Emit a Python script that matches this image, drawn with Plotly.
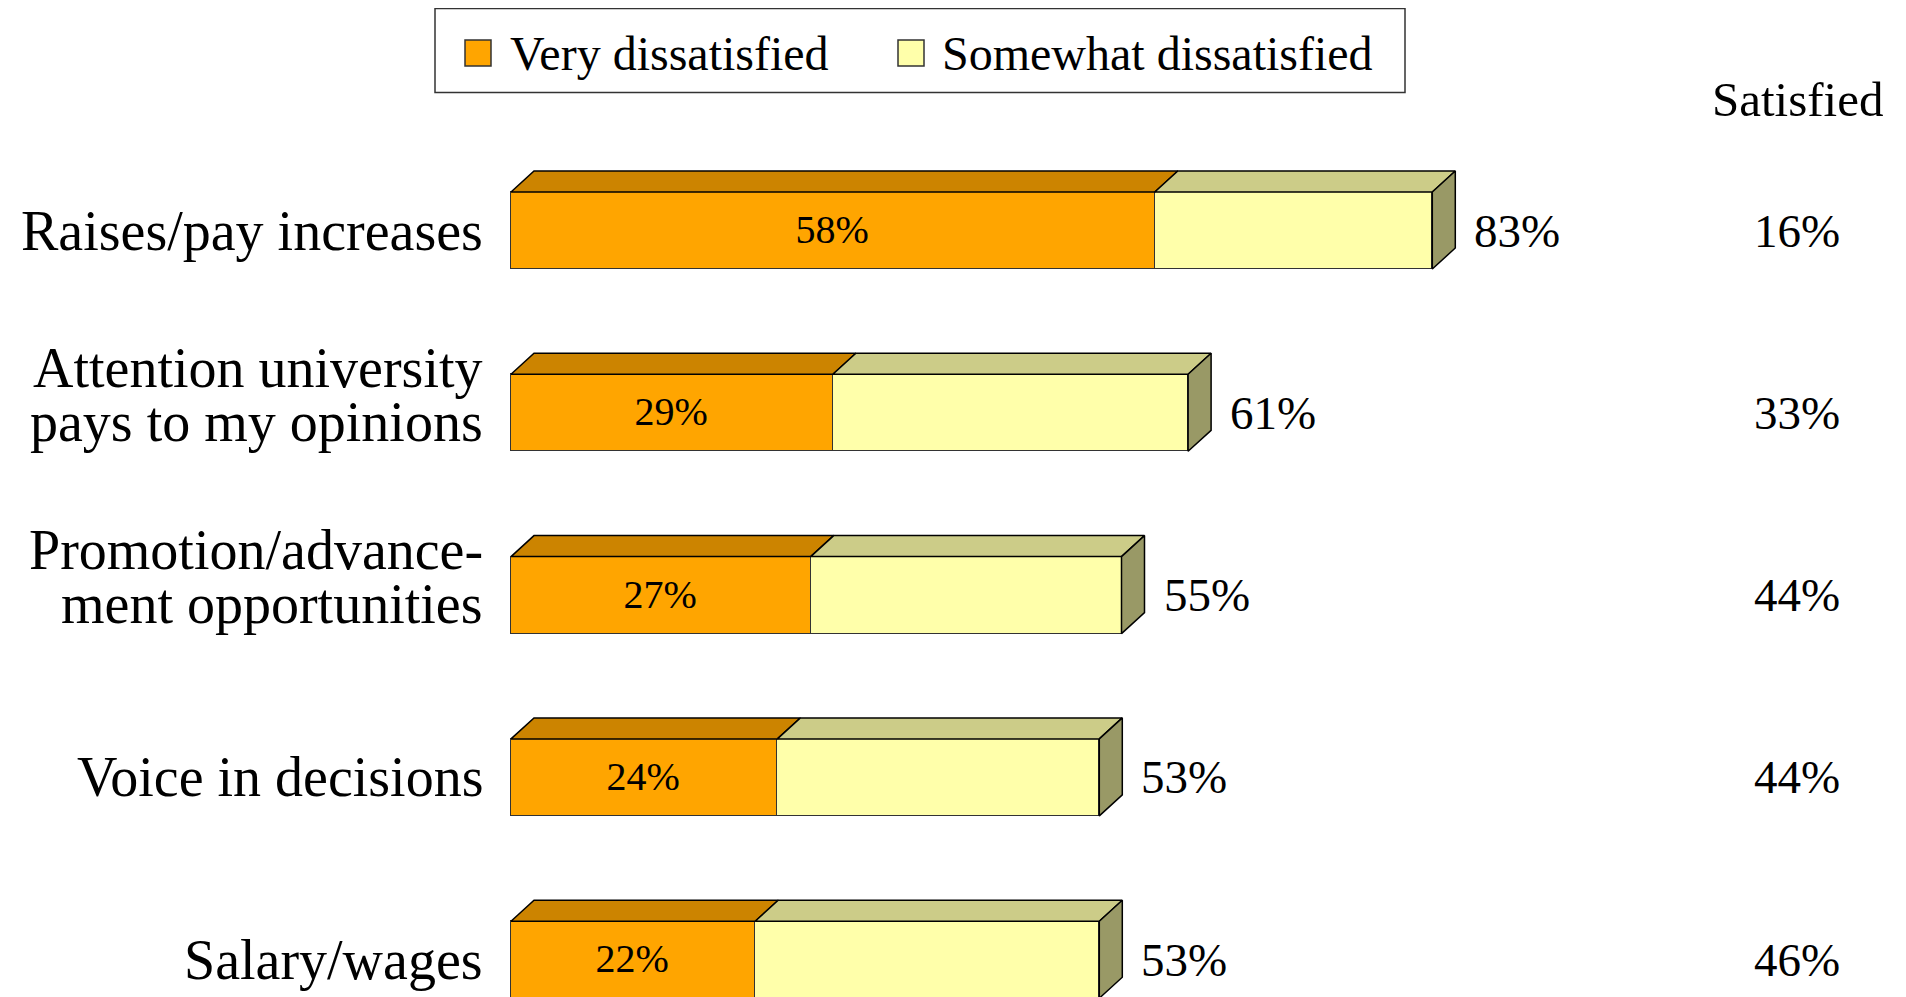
import plotly.graph_objects as go

W, H = 1906, 997
FONT = "Liberation Serif"

# data
categories = [["Raises/pay increases"],
              ["Attention university", "pays to my opinions"],
              ["Promotion/advance-", "ment opportunities"],
              ["Voice in decisions"],
              ["Salary/wages"]]
very_dissatisfied = [58, 29, 27, 24, 22]
somewhat_dissatisfied = [25, 32, 28, 29, 31]
total_dissatisfied = [83, 61, 55, 53, 53]
satisfied = [16, 33, 44, 44, 46]

series_names = ["Very dissatisfied", "Somewhat dissatisfied"]
front_colors = ["#FFA500", "#FFFFAA"]
top_colors = ["#CC8400", "#CCCC88"]
side_color = "#999966"

# pixel geometry of the original slide (page body has an 8px margin)
OFF = 8
X0_PX = 511 - OFF    # where 0% sits
PX_PER_PCT = 11.1
ROW0_PX = 230.5 - OFF  # centre of first bar
ROW_PX = 182.3       # bar to bar
BAR_PX = 77
DEPTH_X_PX = 23
DEPTH_Y_PX = 21

x_range = [-X0_PX / PX_PER_PCT, (W - X0_PX) / PX_PER_PCT]
y_range = [(H - ROW0_PX) / ROW_PX, -ROW0_PX / ROW_PX]
bar_w = BAR_PX / ROW_PX
dx = DEPTH_X_PX / PX_PER_PCT
dy = DEPTH_Y_PX / ROW_PX
rows = list(range(len(categories)))

fig = go.Figure()

# front faces
series = [very_dissatisfied, somewhat_dissatisfied]
for s, vals in enumerate(series):
    fig.add_trace(go.Bar(
        y=rows, x=vals, orientation="h", width=bar_w, name=series_names[s],
        marker=dict(color=front_colors[s], line=dict(color="#333333", width=1.5)),
        text=[f"{v}%" for v in vals] if s == 0 else None,
        textposition="inside", insidetextanchor="middle", textangle=0,
        textfont=dict(family=FONT, size=40, color="black"),
        constraintext="none", showlegend=False, hoverinfo="skip"))

# top and side faces (fake 3d)
for i in rows:
    yt = i - bar_w / 2
    yb = i + bar_w / 2
    base = 0
    for s, vals in enumerate(series):
        x0, x1 = base, base + vals[i]
        fig.add_trace(go.Scatter(
            x=[x0, x1, x1 + dx, x0 + dx, x0],
            y=[yt, yt, yt - dy, yt - dy, yt],
            mode="lines", fill="toself", fillcolor=top_colors[s],
            line=dict(color="black", width=1.5), showlegend=False, hoverinfo="skip"))
        base = x1
    fig.add_trace(go.Scatter(
        x=[base, base + dx, base + dx, base, base],
        y=[yt, yt - dy, yb - dy, yb, yt],
        mode="lines", fill="toself", fillcolor=side_color,
        line=dict(color="black", width=1.5), showlegend=False, hoverinfo="skip"))

# category labels (tight line spacing, one annotation per line)
LINE_PX = 54
for i, lines in enumerate(categories):
    n = len(lines)
    for k, line in enumerate(lines):
        fig.add_annotation(x=0, y=i, text=line, showarrow=False,
                           xanchor="right", yanchor="middle", xshift=-26,
                           yshift=((n - 1) / 2 - k) * LINE_PX + (n - 1) * 18,
                           font=dict(family=FONT, size=56, color="black"))

# total dissatisfied at the bar end
for i, t in enumerate(total_dissatisfied):
    fig.add_annotation(x=t, y=i, text=f"{t}%", showarrow=False,
                       xanchor="left", yanchor="middle", xshift=40,
                       font=dict(family=FONT, size=47, color="black"))


def px(x, y):
    return (x - OFF) / W, 1 - (y - OFF) / H


# satisfied column
SAT_X, SAT_Y = px(1797, 100)
fig.add_annotation(x=SAT_X, xref="paper", y=SAT_Y, yref="paper",
                   text="Satisfied", showarrow=False, xanchor="center", yanchor="middle",
                   font=dict(family=FONT, size=49, color="black"))
for i, v in enumerate(satisfied):
    fig.add_annotation(x=SAT_X, xref="paper", y=i, text=f"{v}%", showarrow=False,
                       xanchor="center", yanchor="middle",
                       font=dict(family=FONT, size=47, color="black"))

# legend box drawn by hand so the swatches can be as large as the original
lx0, ly0 = px(435, 8.5)
lx1, ly1 = px(1405, 92.5)
fig.add_shape(type="rect", xref="paper", yref="paper", x0=lx0, y0=ly1, x1=lx1, y1=ly0,
              line=dict(color="#333333", width=1.5), fillcolor="white")
legend_items = [(465, 508), (898, 940)]
for s, (sx, tx) in enumerate(legend_items):
    a, b = px(sx, 40)
    c, d = px(sx + 26, 66)
    fig.add_shape(type="rect", xref="paper", yref="paper", x0=a, y0=d, x1=c, y1=b,
                  line=dict(color="#333333", width=1.5), fillcolor=front_colors[s])
    tx_, ty_ = px(tx, 53)
    fig.add_annotation(x=tx_, y=ty_, xref="paper", yref="paper", text=series_names[s],
                       showarrow=False, xanchor="left", yanchor="middle",
                       font=dict(family=FONT, size=48, color="black"))

fig.update_layout(
    width=W, height=H, margin=dict(l=0, r=0, t=0, b=0),
    paper_bgcolor="white", plot_bgcolor="white",
    barmode="stack", bargap=0,
    xaxis=dict(range=x_range, visible=False, fixedrange=True),
    yaxis=dict(range=y_range, visible=False, fixedrange=True),
    font=dict(family=FONT),
)

fig.write_html("out.html")
